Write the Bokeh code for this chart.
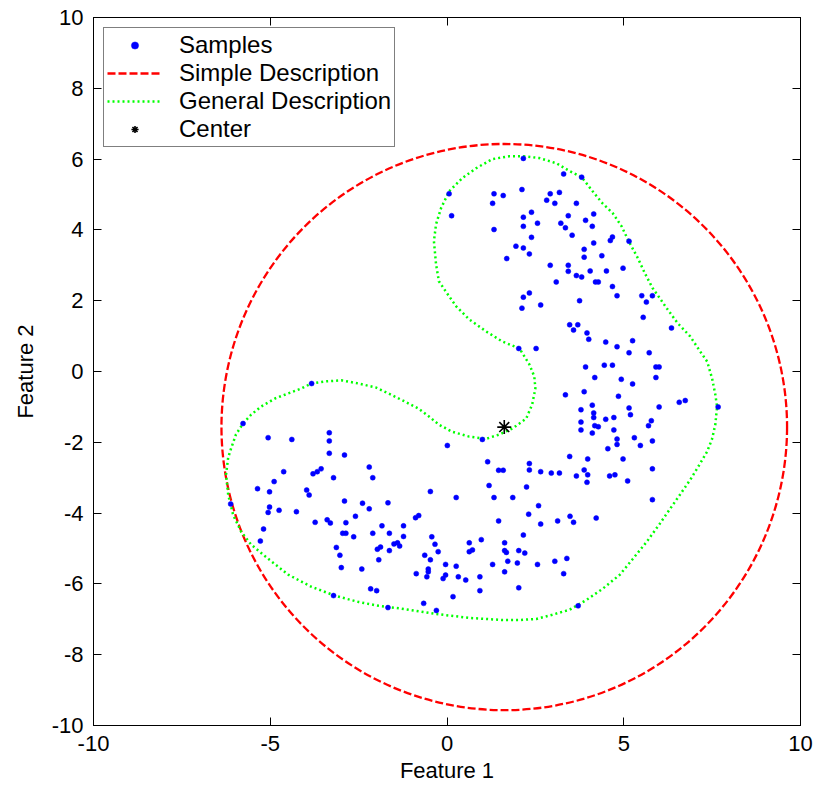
from bokeh.plotting import figure
from bokeh.models import Range1d, FixedTicker, LinearAxis, Legend, LegendItem
from bokeh.embed import file_html
from bokeh.resources import INLINE

# ---------------- data ----------------
sample_points = [
    (2.16, 6.02), (3.30, 5.58), (0.06, 5.02), (1.33, 5.02), (1.59, 4.97), (2.12, 5.14),
    (1.29, 4.75), (2.92, 5.02), (3.18, 5.06), (2.82, 4.84), (3.05, 4.75), (0.13, 4.40),
    (2.39, 4.50), (2.16, 4.36), (3.43, 4.40), (2.56, 4.19), (3.22, 4.19), (3.35, 4.06),
    (2.16, 4.10), (1.33, 4.01), (2.39, 3.79), (1.95, 3.54), (2.16, 3.49), (2.33, 3.32),
    (1.69, 3.19), (2.92, 3.00), (3.43, 3.00), (3.43, 2.83), (3.09, 2.53), (2.33, 2.22),
    (2.16, 2.10),
    (3.81, 5.49), (3.66, 4.75), (4.15, 4.45), (3.92, 4.27), (4.11, 4.10), (3.54, 3.85),
    (4.68, 3.80), (4.62, 3.70), (5.15, 3.68), (4.15, 3.63), (3.88, 3.45), (3.88, 3.23),
    (4.38, 3.27), (4.98, 2.92), (4.05, 2.84), (4.51, 2.84), (3.66, 2.71), (3.81, 2.67),
    (4.20, 2.53), (4.28, 2.53), (4.68, 2.40), (4.81, 2.14), (5.51, 2.14), (5.81, 2.14),
    (3.75, 2.00),
    (5.64, 1.96), (5.55, 1.53), (6.35, 1.23), (3.47, 1.32), (3.70, 1.32), (3.58, 1.17),
    (3.96, 1.09), (4.01, 0.91), (4.49, 0.83), (5.25, 0.87), (4.81, 0.70), (5.15, 0.53),
    (5.72, 0.53), (3.92, 0.13), (4.45, 0.18), (4.68, 0.18), (5.91, 0.13), (6.00, 0.13),
    (4.18, -0.17), (4.93, -0.22), (5.25, -0.35), (5.91, -0.17), (3.88, -0.57), (4.85, -0.70),
    (6.57, -0.87), (6.74, -0.82), (7.67, -1.00), (6.00, -1.00), (4.11, -0.95), (3.79, -1.08),
    (5.15, -1.03), (4.15, -1.17), (5.19, -1.22), (4.15, -1.30), (4.49, -1.35), (4.72, -1.30),
    (5.78, -1.39), (5.70, -1.53), (3.79, -1.43), (4.18, -1.53), (4.28, -1.56), (3.79, -1.65),
    (4.72, -1.65), (4.11, -1.74), (4.81, -1.91), (5.30, -1.87), (5.81, -1.96), (4.81, -2.06),
    (5.47, -2.09), (4.55, -2.18), (3.47, -2.40), (3.98, -2.47), (4.98, -2.47),
    (2.12, 1.79), (2.65, 1.88), (2.03, 0.65), (2.52, 0.65), (3.35, -0.66), (1.00, -1.92),
    (0.01, -2.09), (1.15, -2.55), (2.33, -2.60),
    (-3.83, -0.34), (-5.77, -1.47), (-5.06, -1.87), (-4.39, -1.92), (-3.33, -1.73),
    (-3.33, -1.96), (-3.33, -2.31), (-2.90, -2.36), (-2.20, -2.70), (-2.10, -3.00),
    (-4.62, -2.83), (-3.79, -2.89), (-3.67, -2.83), (-3.56, -2.75), (-3.21, -3.00),
    (-4.89, -3.11),
    (-5.36, -3.31), (-5.02, -3.40), (-3.97, -3.35), (-3.90, -3.49), (-2.90, -3.66),
    (-2.39, -3.72), (-2.20, -3.88), (-5.02, -3.83), (-5.06, -3.98), (-4.75, -3.92),
    (-4.26, -3.96), (-3.73, -4.26), (-3.39, -4.19), (-3.30, -4.28), (-2.86, -4.27),
    (-2.59, -4.09), (-5.19, -4.45), (-5.28, -4.79), (-2.95, -4.57), (-2.86, -4.57),
    (-2.64, -4.67), (-2.10, -4.57), (-3.13, -4.97), (-1.97, -5.02), (-3.03, -5.19),
    (-1.93, -5.32), (-2.99, -5.54), (-2.41, -5.58), (-2.16, -6.14), (-1.99, -6.19),
    (-3.21, -6.33), (-6.12, -3.74),
    (1.46, -2.79), (1.59, -2.79), (1.19, -3.22), (2.25, -3.26), (-0.47, -3.39), (0.26, -3.56),
    (1.33, -3.56), (1.86, -3.56), (-1.67, -3.71), (2.31, -4.03), (1.46, -4.22), (-0.89, -4.13),
    (-0.80, -4.07), (-1.84, -4.36), (-1.23, -4.36), (-1.63, -4.57), (-1.23, -4.66), (-0.43, -4.67),
    (2.16, -4.62), (0.97, -4.75), (0.63, -4.84), (1.63, -4.84), (-1.50, -4.87), (-1.40, -4.84),
    (-1.34, -4.93), (-0.34, -4.88), (-1.88, -4.96), (-1.63, -5.06), (0.63, -5.09), (0.72, -5.04),
    (1.63, -5.06), (1.68, -5.11), (2.03, -5.06), (2.20, -5.13), (-0.25, -5.09), (-0.63, -5.19),
    (-0.47, -5.32), (1.72, -5.36), (1.99, -5.41), (-0.04, -5.45), (0.26, -5.50), (1.29, -5.45),
    (-0.53, -5.58), (-0.53, -5.66), (-0.87, -5.71), (-0.04, -5.75), (0.32, -5.80), (-0.57, -5.80),
    (-0.11, -5.85), (0.53, -5.89), (0.93, -5.80), (1.63, -5.66), (0.93, -6.19), (2.03, -6.11),
    (0.17, -6.36), (-0.66, -6.55), (-1.67, -6.67), (-0.30, -6.75),
    (2.33, -2.78), (2.65, -2.83), (2.95, -2.87), (3.18, -2.87), (5.81, -2.75), (3.66, -2.95),
    (3.88, -2.78), (3.98, -2.92), (4.60, -2.95), (4.75, -2.92), (3.96, -3.13), (5.11, -3.09),
    (5.81, -3.62), (2.59, -3.79), (3.48, -4.09), (3.58, -4.26), (3.13, -4.22), (2.65, -4.31),
    (4.22, -4.14), (2.56, -5.45), (3.05, -5.36), (3.39, -5.28), (3.30, -5.71), (3.71, -6.62),
]

general_boundary = [
    (2.16, 6.08), (2.61, 6.03), (3.10, 5.88), (3.47, 5.66), (3.81, 5.49), (4.12, 5.09),
    (4.40, 4.75), (4.69, 4.47), (4.94, 4.10), (5.14, 3.68), (5.40, 3.20), (5.60, 2.77),
    (5.82, 2.35), (6.02, 2.07), (6.22, 1.78), (6.53, 1.36), (6.88, 0.99), (7.16, 0.57),
    (7.36, 0.28), (7.50, -0.20), (7.59, -0.65), (7.64, -0.99), (7.59, -1.50), (7.50, -1.90),
    (7.36, -2.26), (7.16, -2.60), (6.88, -3.06), (6.59, -3.48), (6.31, -3.88), (6.02, -4.30),
    (5.65, -4.81), (5.26, -5.29), (4.89, -5.74), (4.40, -6.14), (3.95, -6.45), (3.47, -6.73),
    (2.98, -6.87), (2.53, -6.99), (2.05, -7.02), (1.56, -7.02), (0.63, -6.96), (-0.31, -6.85),
    (-1.28, -6.70), (-1.93, -6.62), (-2.50, -6.51), (-3.15, -6.34), (-3.84, -6.08), (-4.49, -5.74),
    (-5.06, -5.29), (-5.54, -4.89), (-5.82, -4.53), (-6.05, -4.05), (-6.19, -3.48), (-6.25, -2.91),
    (-6.19, -2.43), (-6.11, -2.18), (-5.97, -1.78), (-5.77, -1.47), (-5.54, -1.22), (-5.26, -0.99),
    (-4.86, -0.76), (-4.49, -0.62), (-4.12, -0.48), (-3.84, -0.34), (-3.44, -0.28), (-2.98, -0.25),
    (-2.50, -0.34), (-2.02, -0.45), (-1.59, -0.65), (-1.19, -0.85), (-0.80, -1.05), (-0.51, -1.27),
    (-0.23, -1.50), (0.14, -1.70), (0.63, -1.84), (1.11, -1.90), (1.48, -1.78), (1.85, -1.61),
    (2.24, -1.33), (2.41, -0.93), (2.50, -0.48), (2.47, -0.14), (2.33, 0.20), (2.05, 0.65),
    (1.56, 0.85), (1.11, 1.13), (0.63, 1.47), (0.26, 1.84), (0.00, 2.21), (-0.23, 2.55),
    (-0.31, 3.03), (-0.37, 3.68), (-0.31, 4.16), (-0.17, 4.61), (0.06, 5.09), (0.43, 5.46),
    (0.82, 5.74), (1.28, 6.00), (1.76, 6.08), (2.16, 6.08),
]

center_x = [1.62]
center_y = [-1.57]
simple_radius = 8.0

x_ticks = [-10, -5, 0, 5, 10]
x_tick_labels = ["-10", "-5", "0", "5", "10"]
y_ticks = [-10, -8, -6, -4, -2, 0, 2, 4, 6, 8, 10]
y_tick_labels = ["-10", "-8", "-6", "-4", "-2", "0", "2", "4", "6", "8", "10"]

legend_labels = ["Samples", "Simple Description", "General Description", "Center"]

# ---------------- figure ----------------
FONT = "Liberation Sans"

p = figure(width=817, height=789,
           x_range=Range1d(-10, 10), y_range=Range1d(-10, 10),
           output_backend="svg", toolbar_location=None,
           min_border_left=93, min_border_right=17,
           min_border_top=17, min_border_bottom=64)
p.xgrid.visible = False
p.ygrid.visible = False
p.outline_line_color = "black"
p.background_fill_color = "white"
p.border_fill_color = "white"


def style_axis(ax, ticks, labels, show_labels=True):
    ax.ticker = FixedTicker(ticks=ticks)
    ax.major_tick_in = 8
    ax.major_tick_out = 0
    ax.minor_tick_line_color = None
    ax.axis_line_color = "black"
    ax.major_tick_line_color = "black"
    ax.major_label_text_font = FONT
    ax.major_label_text_color = "black"
    if show_labels:
        ax.major_label_text_font_size = "22px"
        ax.major_label_standoff = 10
        ax.major_label_overrides = {t: l for t, l in zip(ticks, labels)}
    else:
        ax.major_label_text_font_size = "0px"
        ax.major_label_standoff = 0
        ax.major_label_overrides = {t: "" for t in ticks}


xa = p.xaxis[0]
ya = p.yaxis[0]
style_axis(xa, x_ticks, x_tick_labels)
style_axis(ya, y_ticks, y_tick_labels)
for ax, lab, st in ((xa, "Feature 1", 4), (ya, "Feature 2", 11)):
    ax.axis_label = lab
    ax.axis_label_text_font = FONT
    ax.axis_label_text_font_size = "22px"
    ax.axis_label_text_font_style = "normal"
    ax.axis_label_text_color = "black"
    ax.axis_label_standoff = st

top_ax = LinearAxis()
style_axis(top_ax, x_ticks, x_tick_labels, show_labels=False)
p.add_layout(top_ax, "above")
right_ax = LinearAxis()
style_axis(right_ax, y_ticks, y_tick_labels, show_labels=False)
p.add_layout(right_ax, "right")

# ---------------- glyphs ----------------
RED = "#FF0000"
GREEN = "#00FF00"
BLUE = "#0000FF"

simple_r = p.ellipse(x=center_x, y=center_y,
                     width=[2 * simple_radius], height=[2 * simple_radius],
                     fill_color=None, line_color=RED, line_width=2.3, line_dash="8 3")
# legend proxy for the dashed circle (no visible data)
simple_legend_r = p.line(x=[float("nan")], y=[float("nan")],
                         line_color=RED, line_width=2.3, line_dash="8 3")

gx = [pt[0] for pt in general_boundary]
gy = [pt[1] for pt in general_boundary]
general_r = p.line(x=gx, y=gy, line_color=GREEN, line_width=2.5, line_dash="2 3")

sx = [pt[0] for pt in sample_points]
sy = [pt[1] for pt in sample_points]
samples_r = p.scatter(x=sx, y=sy, marker="circle", size=5,
                      fill_color=BLUE, line_color=BLUE, line_width=0.5)

center_r = p.scatter(x=center_x, y=center_y, marker="asterisk", size=14,
                     line_color="black", line_width=1.6)

legend = Legend(items=[
    LegendItem(label=legend_labels[0], renderers=[samples_r]),
    LegendItem(label=legend_labels[1], renderers=[simple_legend_r]),
    LegendItem(label=legend_labels[2], renderers=[general_r]),
    LegendItem(label=legend_labels[3], renderers=[center_r]),
])
legend.location = "top_left"
legend.margin = 10
legend.padding = 3
legend.spacing = 0
legend.glyph_width = 55
legend.glyph_height = 18
legend.label_height = 28
legend.label_standoff = 17
legend.label_text_font = FONT
legend.label_text_font_size = "24px"
legend.label_text_color = "black"
legend.border_line_color = "black"
legend.border_line_width = 1
legend.background_fill_color = "white"
legend.background_fill_alpha = 1.0
p.add_layout(legend)

open("out.html", "w").write(file_html(p, INLINE))
